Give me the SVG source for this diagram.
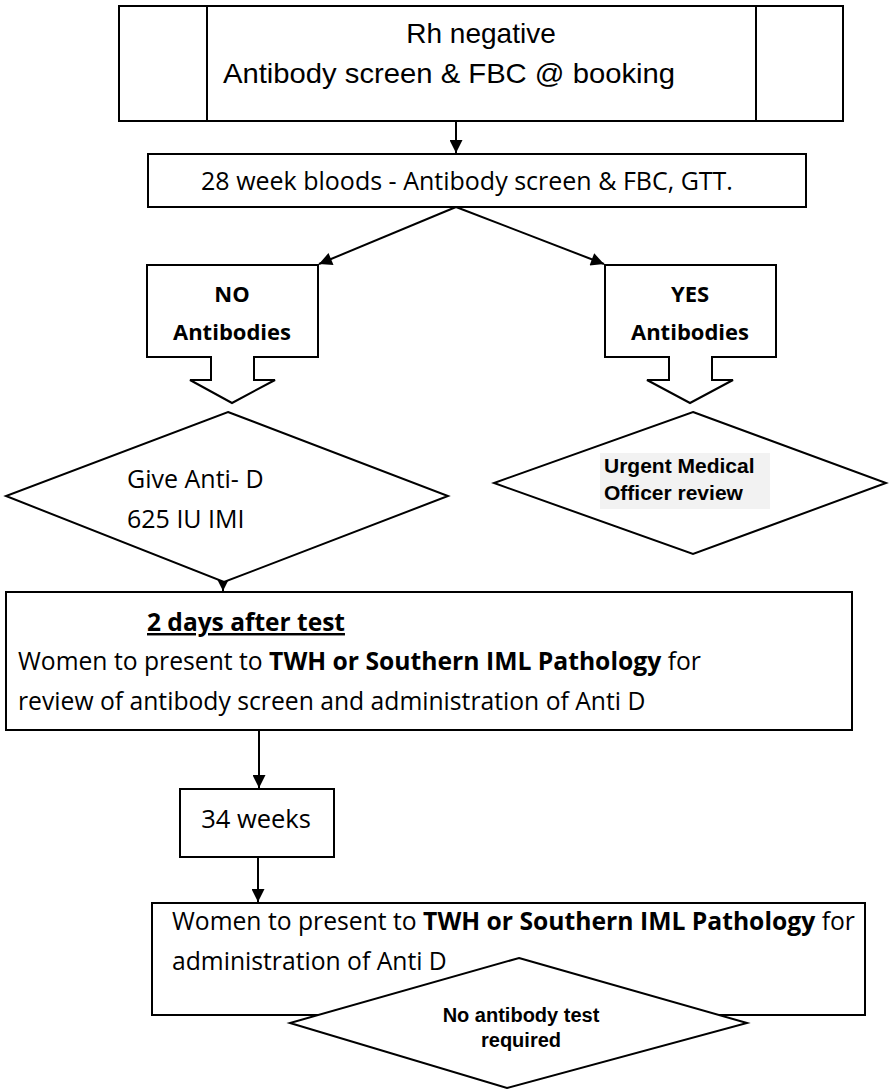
<svg xmlns="http://www.w3.org/2000/svg" width="889" height="1089" viewBox="0 0 889 1089">
<style>
.box{fill:#fff;stroke:#000;stroke-width:2}
.ln{stroke:#000;stroke-width:2;fill:none}
.ar{font-family:"Liberation Sans",Arial,sans-serif;fill:#000}
.cal{font-family:"Open Sans","Liberation Sans",sans-serif;fill:#000}
.b{font-weight:bold}
</style>
<defs>
<marker id="ah" viewBox="0 0 10 10" refX="10" refY="5" markerWidth="7" markerHeight="6.5" orient="auto" markerUnits="strokeWidth">
<path d="M0,0 L10,5 L0,10 z" fill="#000"/>
</marker>
</defs>
<rect width="889" height="1089" fill="#fff"/>
<g id="connectors">
<line class="ln" x1="456" y1="121" x2="456" y2="153" marker-end="url(#ah)"/>
<line class="ln" x1="456" y1="207" x2="319" y2="264" marker-end="url(#ah)"/>
<line class="ln" x1="456" y1="207" x2="604" y2="264" marker-end="url(#ah)"/>
<line class="ln" x1="223" y1="542" x2="223" y2="591" marker-end="url(#ah)"/>
<line class="ln" x1="259" y1="730" x2="259" y2="788" marker-end="url(#ah)"/>
<line class="ln" x1="258" y1="857" x2="258" y2="902" marker-end="url(#ah)"/>
</g>
<g id="n-rh">
<rect class="box" x="119" y="6" width="724" height="115"/>
<line class="ln" x1="207" y1="6" x2="207" y2="121"/>
<line class="ln" x1="756" y1="6" x2="756" y2="121"/>
<text class="ar" x="481" y="43" font-size="28" text-anchor="middle">Rh negative</text>
<text class="ar" x="223" y="83" font-size="28" textLength="452" lengthAdjust="spacingAndGlyphs">Antibody screen &amp; FBC @ booking</text>
</g>
<g id="n-28">
<rect class="box" x="148" y="154" width="658" height="53"/>
<text class="cal" x="467" y="190" font-size="25" text-anchor="middle">28 week bloods - Antibody screen &amp; FBC, GTT.</text>
</g>
<g id="n-no">
<path class="box" d="M147,265 H318 V357 H254 V380 H275 L232,403 L190,380 H211 V357 H147 Z"/>
<text class="cal b" x="232" y="302" font-size="22" text-anchor="middle">NO</text>
<text class="cal b" x="232" y="340" font-size="22" text-anchor="middle">Antibodies</text>
</g>
<g id="n-yes">
<path class="box" d="M605,265 H776 V357 H712 V380 H733 L690,403 L647,380 H669 V357 H605 Z"/>
<text class="cal b" x="690" y="302" font-size="22" text-anchor="middle">YES</text>
<text class="cal b" x="690" y="340" font-size="22" text-anchor="middle">Antibodies</text>
</g>
<g id="n-give">
<polygon class="box" points="228,412 448,496 224,582 6,496"/>
<text class="cal" x="127" y="488" font-size="25">Give Anti- D</text>
<text class="cal" x="127" y="528" font-size="25">625 IU IMI</text>
</g>
<g id="n-urgent">
<polygon class="box" points="693,412 886,483 693,554 494,483"/>
<rect x="600" y="453" width="170" height="56" fill="#f2f2f2"/>
<text class="ar b" x="604" y="473" font-size="21">Urgent Medical</text>
<text class="ar b" x="604" y="500" font-size="21">Officer review</text>
</g>
<g id="n-2days">
<rect class="box" x="6" y="592" width="846" height="138"/>
<text class="cal b" x="147" y="631" font-size="24.5" text-decoration="underline">2 days after test</text>
<text class="cal" x="18" y="670" font-size="24.7">Women to present to <tspan class="b">TWH or Southern IML Pathology</tspan> for</text>
<text class="cal" x="18" y="710" font-size="24.7">review of antibody screen and administration of Anti D</text>
</g>
<g id="n-34">
<rect class="box" x="180" y="789" width="154" height="68"/>
<text class="cal" x="256" y="828" font-size="25.5" text-anchor="middle">34 weeks</text>
</g>
<g id="n-bottom">
<rect class="box" x="152" y="903" width="713" height="112"/>
<text class="cal" x="172" y="930" font-size="24.7">Women to present to <tspan class="b">TWH or Southern IML Pathology</tspan> for</text>
<text class="cal" x="172" y="970" font-size="24.7">administration of Anti D</text>
</g>
<g id="n-noab">
<polygon class="box" points="519,958 747,1023 507,1088 290,1023"/>
<text class="ar b" x="521" y="1022" font-size="20" text-anchor="middle">No antibody test</text>
<text class="ar b" x="521" y="1047" font-size="20" text-anchor="middle">required</text>
</g>
</svg>
